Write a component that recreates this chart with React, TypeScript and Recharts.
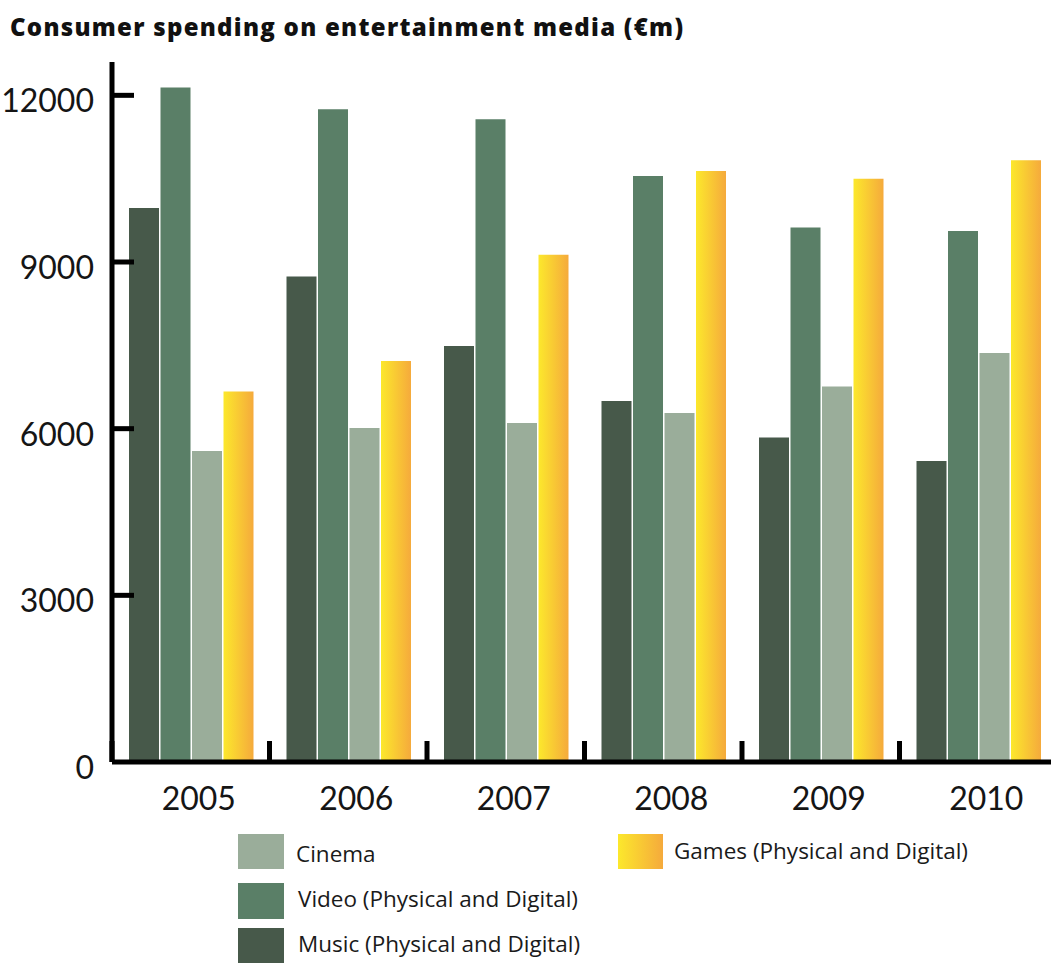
import React from 'react';
import { BarChart, Bar, XAxis, YAxis } from 'recharts';

const years = ['2005', '2006', '2007', '2008', '2009', '2010'];
const music = [9970, 8740, 7490, 6500, 5840, 5420];
const video = [12140, 11750, 11570, 10550, 9620, 9560];
const cinema = [5600, 6010, 6100, 6280, 6760, 7360];
const games = [6670, 7220, 9130, 10640, 10500, 10830];
const yTicks = [0, 3000, 6000, 9000, 12000];

const titleText = 'Consumer spending on entertainment media (€m)';
const nameCinema = 'Cinema';
const nameVideo = 'Video (Physical and Digital)';
const nameMusic = 'Music (Physical and Digital)';
const nameGames = 'Games (Physical and Digital)';

const data = years.map((year, i) => ({
  year,
  music: music[i],
  video: video[i],
  cinema: cinema[i],
  games: games[i],
}));

const COL_MUSIC = '#47594a';
const COL_VIDEO = '#5a7f67';
const COL_CINEMA = '#9aad9a';
const BAND = 157.5;
const FONT = 'Lato, "Open Sans", sans-serif';
const LEGEND_FONT = '"Open Sans", Lato, sans-serif';

const XTick = (props: any) => {
  const { x, y, payload } = props;
  const bx = x - BAND / 2;
  return (
    <g>
      <line x1={bx} x2={bx} y1={y} y2={y - 21} stroke="#000" strokeWidth={5} />
      <text x={x + 8} y={y + 48} textAnchor="middle" fontFamily={FONT} fontSize={32} fill="#151515">
        {payload.value}
      </text>
    </g>
  );
};

const YTick = (props: any) => {
  const { x, y, payload } = props;
  return (
    <g>
      {payload.value !== 0 && (
        <line x1={x} x2={x + 22} y1={y} y2={y} stroke="#000" strokeWidth={5} />
      )}
      <text x={x - 18} y={y + 17} textAnchor="end" fontFamily={FONT} fontSize={32} fill="#151515">
        {payload.value}
      </text>
    </g>
  );
};

export default function App() {
  return (
    <div style={{ position: 'absolute', left: 0, top: 0, width: 1051, height: 963, overflow: 'hidden', background: '#fff' }}>
      <BarChart
        width={1070}
        height={963}
        data={data}
        margin={{ top: 62, right: 13, bottom: 141, left: 0 }}
        barSize={30}
        barGap={1.5}
      >
        <defs>
          <linearGradient id="gamesGrad" x1="0" y1="0" x2="1" y2="0">
            <stop offset="0%" stopColor="#fce82c" />
            <stop offset="100%" stopColor="#f5aa3c" />
          </linearGradient>
        </defs>
        <XAxis
          dataKey="year"
          height={60}
          tickSize={0}
          tickMargin={0}
          tickLine={false}
          axisLine={{ stroke: '#000', strokeWidth: 5 }}
          tick={<XTick />}
          interval={0}
        />
        <YAxis
          width={112}
          domain={[0, 12600]}
          ticks={yTicks}
          tickSize={0}
          tickMargin={0}
          tickLine={false}
          axisLine={{ stroke: '#000', strokeWidth: 5 }}
          tick={<YTick />}
          interval={0}
        />
        <Bar dataKey="music" name={nameMusic} fill={COL_MUSIC} isAnimationActive={false} />
        <Bar dataKey="video" name={nameVideo} fill={COL_VIDEO} isAnimationActive={false} />
        <Bar dataKey="cinema" name={nameCinema} fill={COL_CINEMA} isAnimationActive={false} />
        <Bar dataKey="games" name={nameGames} fill="url(#gamesGrad)" isAnimationActive={false} />
      </BarChart>
      <svg
        width={1051}
        height={963}
        style={{ position: 'absolute', left: 0, top: 0, pointerEvents: 'none' }}
      >
        <defs>
          <linearGradient id="gamesGradLegend" x1="0" y1="0" x2="1" y2="0">
            <stop offset="0%" stopColor="#fce82c" />
            <stop offset="100%" stopColor="#f5aa3c" />
          </linearGradient>
        </defs>
        <text
          x={10}
          y={36}
          fontFamily='"Open Sans", sans-serif'
          fontWeight={800}
          fontSize={24}
          textLength={673}
          lengthAdjust="spacing"
          fill="#111"
        >
          {titleText}
        </text>
        <rect x={238} y={834} width={46} height={35} fill={COL_CINEMA} />
        <text x={296} y={862} fontFamily={LEGEND_FONT} fontSize={22.5} fill="#1a1a1a">{nameCinema}</text>
        <rect x={238} y={883} width={46} height={36} fill={COL_VIDEO} />
        <text x={298} y={907} fontFamily={LEGEND_FONT} fontSize={22.5} fill="#1a1a1a">{nameVideo}</text>
        <rect x={238} y={928} width={46} height={40} fill={COL_MUSIC} />
        <text x={298} y={952} fontFamily={LEGEND_FONT} fontSize={22.5} fill="#1a1a1a">{nameMusic}</text>
        <rect x={618} y={834} width={45} height={35} fill="url(#gamesGradLegend)" />
        <text x={674} y={859} fontFamily={LEGEND_FONT} fontSize={22.5} fill="#1a1a1a">{nameGames}</text>
      </svg>
    </div>
  );
}
